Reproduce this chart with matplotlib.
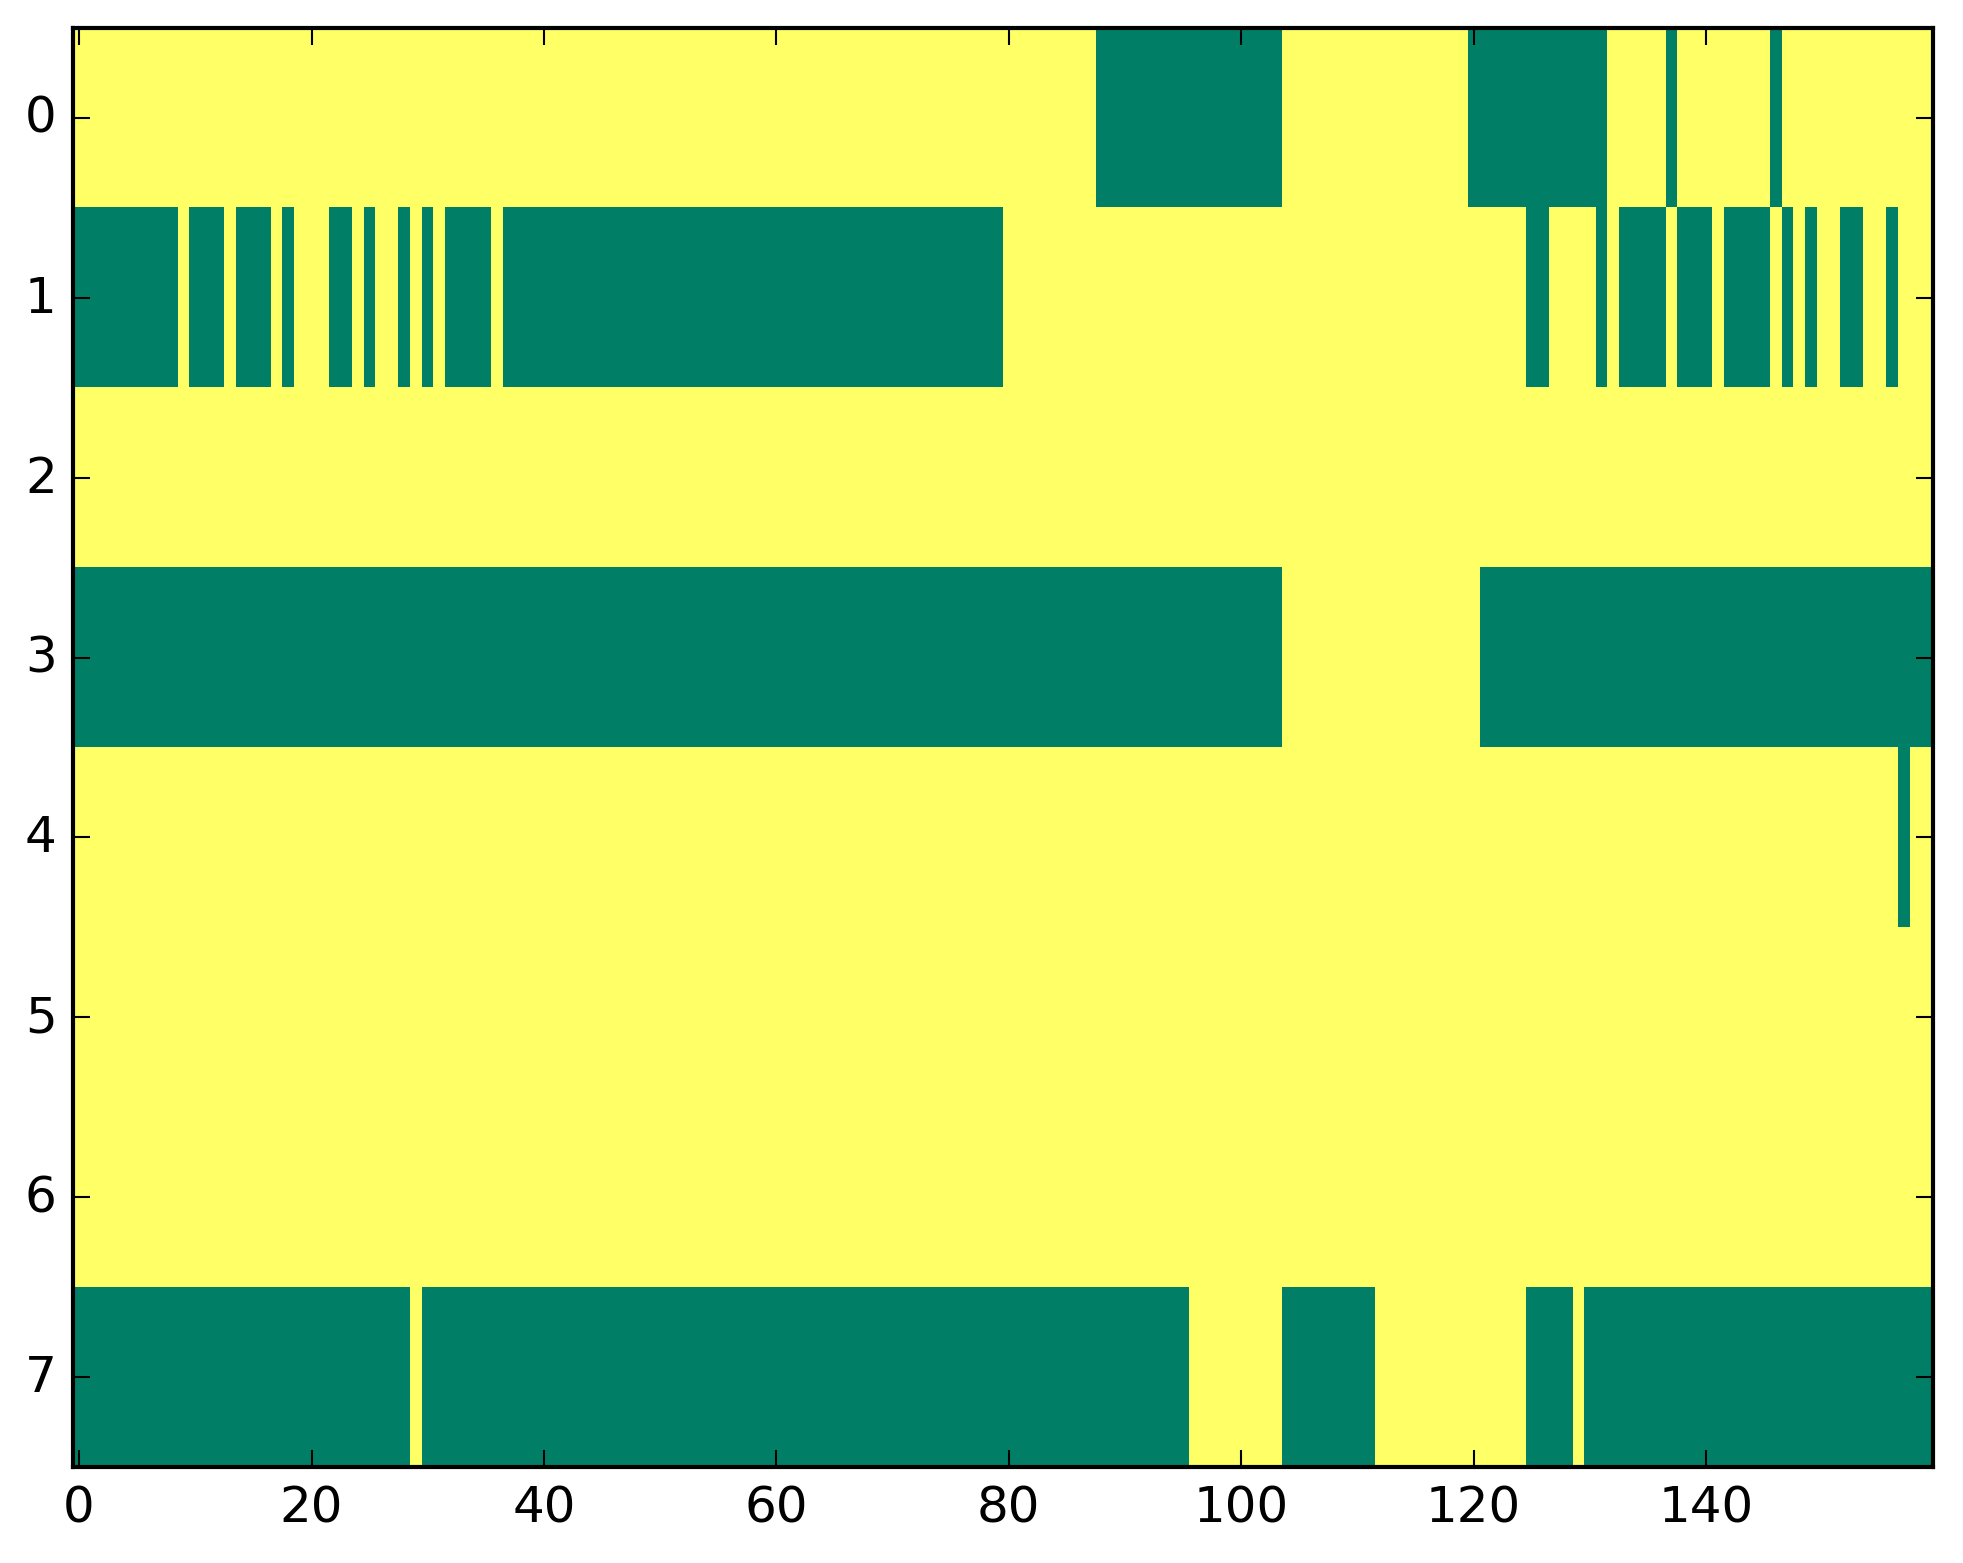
import numpy as np
import matplotlib
matplotlib.use("Agg")
import matplotlib.pyplot as plt

plt.style.use('classic')

n_cols = 160

# runs of zero (green) cells per row, as (start, stop) column ranges; the rest is 1
row0 = [(88, 104), (120, 132), (137, 138), (146, 147)]
row1 = [(0, 9), (10, 13), (14, 17), (18, 19), (22, 24), (25, 26), (28, 29),
        (30, 31), (32, 36), (37, 80), (125, 127), (131, 132), (133, 137),
        (138, 141), (142, 146), (147, 148), (149, 150), (152, 154), (156, 157)]
row2 = []
row3 = [(0, 104), (121, 160)]
row4 = [(157, 158)]
row5 = []
row6 = []
row7 = [(0, 29), (30, 96), (104, 112), (125, 129), (130, 160)]

rows = [row0, row1, row2, row3, row4, row5, row6, row7]

data = np.ones((len(rows), n_cols))
for i, runs in enumerate(rows):
    for a, b in runs:
        data[i, a:b] = 0

fig = plt.figure(figsize=(1963 / 300.0, 1564 / 300.0), dpi=300)
ax = fig.add_axes([0.03734, 0.06138, 0.9472, 0.92008])
ax.imshow(data, cmap='summer', interpolation='nearest', aspect='auto')
ax.set_xticks(np.arange(0, 160, 20))
ax.set_yticks(np.arange(0, 8))

fig.savefig("out.png", dpi=300)
